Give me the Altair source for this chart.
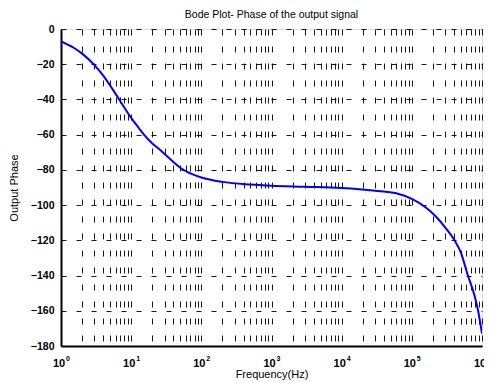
import altair as alt
import pandas as pd

# Curve (frequency in Hz, phase in degrees)
freq = [1, 1.5, 2, 3, 4, 5, 7, 10, 13, 15, 20, 26, 30, 40, 50, 70, 100, 200,
        500, 1000, 3000, 10000, 30000, 60000, 100000, 160000, 220000, 300000,
        400000, 500000, 630000, 790000, 880000, 1000000]
phase = [-7, -10.5, -14, -20.5, -26.5, -32, -41, -50.5, -56.5, -59.7, -65,
         -68.7, -71, -75.5, -78.8, -82, -84.3, -86.8, -88.3, -89, -89.6, -90.3,
         -91.8, -93.3, -96.5, -101.5, -106.5, -112.8, -119.5, -127, -140, -152,
         -160, -173]

decades = [1, 10, 100, 1000, 10000, 100000, 1000000]
exponents = ["0", "1", "2", "3", "4", "5", "6"]
x_grid = [m * d for d in decades[:-1] for m in range(1, 10)] + [1000000]
y_ticks = [0, -20, -40, -60, -80, -100, -120, -140, -160, -180]

W, H = 421, 317
FONT = "Liberation Sans"

df = pd.DataFrame({"f": freq, "p": phase})
dec_df = pd.DataFrame({"f": decades, "e": exponents})

xscale = alt.Scale(type="log", domain=[1, 1000000], nice=False)
yscale = alt.Scale(domain=[-180, 0], nice=False)

line = alt.Chart(df).mark_line(color="#0000ff", strokeWidth=2, clip=True,
                               interpolate="monotone").encode(
    x=alt.X("f:Q", scale=xscale, title="Frequency(Hz)",
            axis=alt.Axis(values=x_grid, labels=False, ticks=False, grid=True,
                          gridColor="black", gridDash=[6, 11], gridWidth=1,
                          gridOpacity=0.9, domain=True, domainColor="black",
                          domainWidth=2, titleFont=FONT, titleFontSize=11,
                          titleFontWeight="normal", titleColor="black",
                          titlePadding=22)),
    y=alt.Y("p:Q", scale=yscale, title="Output Phase",
            axis=alt.Axis(values=y_ticks, ticks=False, grid=True,
                          gridColor="black", gridDash=[5, 10], gridWidth=1,
                          gridOpacity=0.9, domain=True, domainColor="black",
                          domainWidth=2, labelFont=FONT, labelFontSize=10.5,
                          labelFontWeight="bold", labelColor="black",
                          labelPadding=7, titleFont=FONT, titleFontSize=11,
                          titleFontWeight="normal", titleColor="black",
                          titlePadding=11)),
)

base_lbl = alt.Chart(dec_df).mark_text(
    font=FONT, fontSize=11, fontWeight="bold", color="black", align="center",
    baseline="top", dx=-2, dy=0
).encode(x=alt.X("f:Q", scale=xscale), y=alt.value(H + 12), text=alt.value("10"))

exp_lbl = alt.Chart(dec_df).mark_text(
    font=FONT, fontSize=7, fontWeight="bold", color="black", align="left",
    baseline="top", dx=5, dy=0
).encode(x=alt.X("f:Q", scale=xscale), y=alt.value(H + 9), text="e:N")

chart = alt.layer(line, base_lbl, exp_lbl).properties(
    width=W, height=H,
    title=alt.TitleParams("Bode Plot- Phase of the output  signal", font=FONT,
                          fontSize=10.5, fontWeight="normal", color="black",
                          anchor="middle", offset=4),
    autosize=alt.AutoSizeParams(type="none"),
    padding={"left": 53, "top": 21, "right": 2, "bottom": 40},
).configure_view(stroke=None).configure(background="white")

chart.save("out.html", embed_options={"renderer": "svg", "actions": False})
